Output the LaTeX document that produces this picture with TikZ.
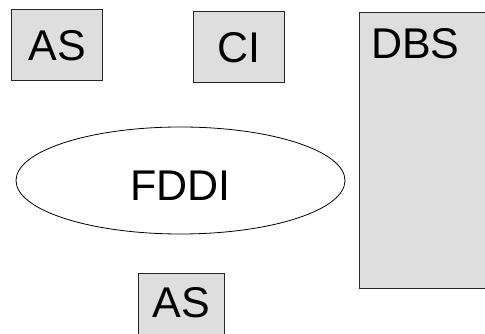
\documentclass[tikz,border=0pt]{standalone}
\usepackage{fontspec}
\setmainfont{Liberation Sans}
\usetikzlibrary{shapes.geometric}
\definecolor{boxgray}{RGB}{222,222,222}

\begin{document}
\begin{tikzpicture}[x=1pt, y=1pt,
    box/.style={draw=black!85, line width=1pt, fill=boxgray, inner sep=0pt,
        minimum width=91pt, minimum height=71pt, text height=31pt, text depth=0pt,
        font=\fontsize{43}{43}\selectfont},
    ring/.style={draw, ellipse, line width=0.8pt, inner sep=0pt,
        minimum width=329pt, minimum height=107pt, text height=41pt, text depth=0pt,
        font=\fontsize{43}{43}\selectfont}]
    \useasboundingbox (0,0) rectangle (485,334);

    % Stations
    \node[box] (as) at (57,288.5) {AS};
    \node[box] (ci) at (238.5,287) {CI};
    \node[box, minimum width=86pt, text depth=13pt, anchor=north] (asb) at (181,61) {AS};

    % Database server
    \node[box, minimum width=130pt, minimum height=276pt, anchor=north west,
        label={[anchor=north west, inner sep=0pt, xshift=12pt, yshift=-16pt,
        font=\fontsize{43}{43}\selectfont]north west:DBS}] (dbs) at (359,322) {};

    % Ring
    \node[ring] (fddi) at (180.5,153.5) {FDDI};
\end{tikzpicture}
\end{document}
